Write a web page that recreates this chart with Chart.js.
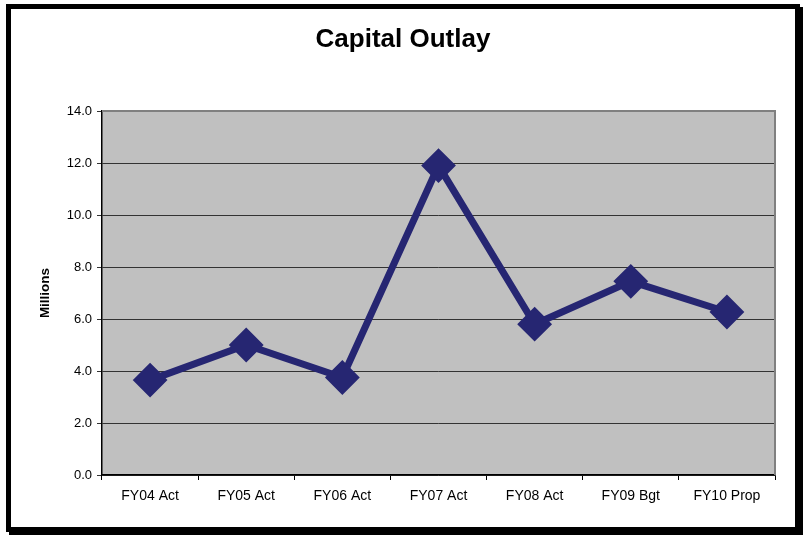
<!DOCTYPE html>
<html>
<head>
<meta charset="utf-8">
<script src="https://cdn.jsdelivr.net/npm/chart.js@4"></script>
<style>
  html, body { margin: 0; padding: 0; background: #ffffff; width: 803px; height: 535px; overflow: hidden; }
  #frame { position: absolute; left: 6px; top: 4px; width: 784px; height: 518px; border: 5px solid #000; box-shadow: 3px 3px 0 #000; background: #fff; }
  #c { display: block; }
</style>
</head>
<body>
<div id="frame"><canvas id="c" width="784" height="518"></canvas></div>
<script>
const categories = ['FY04 Act', 'FY05 Act', 'FY06 Act', 'FY07 Act', 'FY08 Act', 'FY09 Bgt', 'FY10 Prop'];
const outlayMillions = [3.65, 5.0, 3.75, 11.9, 5.8, 7.45, 6.27];
const yTicks = [0, 2, 4, 6, 8, 10, 12, 14];

const LINE = '#262672';
const FONT = "'Liberation Sans', Arial, sans-serif";

const plotBg = {
  id: 'plotBg',
  beforeDraw(chart) {
    const {ctx, chartArea: a} = chart;
    ctx.save();
    ctx.fillStyle = '#c0c0c0';
    ctx.fillRect(a.left, a.top, a.right - a.left, a.bottom - a.top);
    ctx.restore();
  },
  beforeDatasetsDraw(chart) {
    const {ctx, chartArea: a} = chart;
    ctx.save();
    ctx.strokeStyle = '#808080';
    ctx.lineWidth = 2;
    ctx.beginPath();
    ctx.moveTo(a.left, a.top);
    ctx.lineTo(a.right, a.top);
    ctx.lineTo(a.right, a.bottom);
    ctx.stroke();
    ctx.restore();
  }
};

new Chart(document.getElementById('c'), {
  type: 'line',
  data: {
    labels: categories,
    datasets: [{
      data: outlayMillions,
      borderColor: LINE,
      backgroundColor: LINE,
      borderWidth: 7,
      pointStyle: 'rectRot',
      pointRadius: 16,
      pointBorderWidth: 2,
      pointBorderColor: LINE,
      pointBackgroundColor: LINE,
      tension: 0,
      fill: false
    }]
  },
  options: {
    responsive: false,
    animation: false,
    devicePixelRatio: 1,
    layout: { padding: 0 },
    plugins: {
      legend: { display: false },
      tooltip: { enabled: false },
      title: {
        display: true,
        text: 'Capital Outlay',
        color: '#000',
        font: { family: FONT, size: 26, weight: 'bold' },
        padding: { top: 15.4, bottom: 55.4 }
      }
    },
    scales: {
      x: {
        type: 'category',
        offset: true,
        grid: {
          display: true,
          offset: true,
          drawOnChartArea: false,
          drawTicks: true,
          tickLength: 5,
          color: '#000',
          lineWidth: 1
        },
        border: { display: true, color: '#000', width: 1.5 },
        ticks: {
          color: '#000',
          font: { family: FONT, size: 14 },
          padding: 8,
          maxRotation: 0,
          autoSkip: false
        },
        afterFit(scale) { scale.height = 52; }
      },
      y: {
        min: 0,
        max: 14,
        afterBuildTicks(scale) { scale.ticks = yTicks.map(v => ({ value: v })); },
        grid: {
          display: true,
          drawTicks: true,
          tickLength: 5,
          color: '#333',
          lineWidth: 1
        },
        border: { display: true, color: '#000', width: 1.5 },
        ticks: {
          color: '#000',
          font: { family: FONT, size: 13 },
          padding: 5,
          callback: (v) => Number(v).toFixed(1)
        },
        title: {
          display: true,
          text: 'Millions',
          color: '#000',
          font: { family: FONT, size: 13.5, weight: 'bold' },
          padding: { top: 26, bottom: 0 }
        },
        afterFit(scale) { scale.width = 91; }
      },
      yRightGap: {
        position: 'right',
        min: 0,
        max: 14,
        grid: { display: false },
        border: { display: false },
        ticks: { display: false },
        afterFit(scale) { scale.width = 20; }
      }
    }
  },
  plugins: [plotBg]
});
</script>
</body>
</html>
